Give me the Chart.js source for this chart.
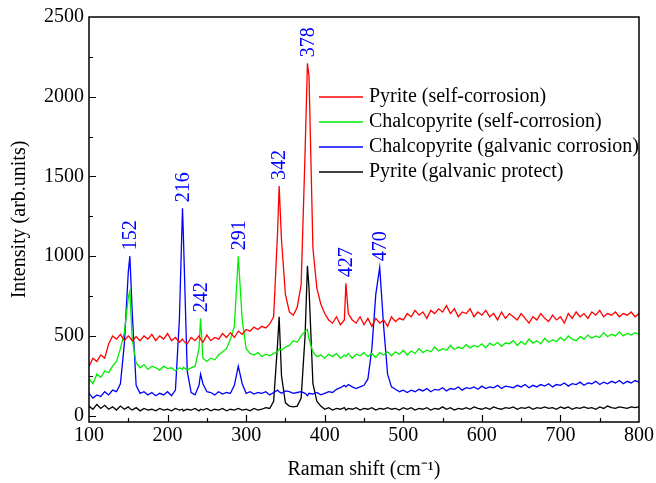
<!DOCTYPE html>
<html>
<head>
<meta charset="utf-8">
<script src="https://cdn.jsdelivr.net/npm/chart.js@4.4.0/dist/chart.umd.min.js"></script>
<style>
html, body { margin: 0; padding: 0; background: #fff; }
</style>
</head>
<body>
<canvas id="myChart" width="656" height="483"></canvas>
<script>
// Raman shift (cm-1), shared by all four spectra
const shift = [
  100,105,110,115,120,125,130,135,140,145,150,
  152,155,160,165,170,175,180,185,190,195,200,205,210,215,
  219,220,225,230,235,240,242,245,250,255,260,265,270,275,280,285,290,295,300,
  305,310,315,320,325,330,335,340,342,345,350,355,360,365,370,375,378,380,385,390,395,400,
  405,410,415,420,425,427,430,435,440,445,450,455,460,465,470,475,480,485,490,495,500,
  505,510,515,520,525,530,535,540,545,550,555,560,565,570,575,580,585,590,595,600,
  605,610,615,620,625,630,635,640,645,650,655,660,665,670,675,680,685,690,695,700,
  705,710,715,720,725,730,735,740,745,750,755,760,765,770,775,780,785,790,795,800
];

const pyriteSelf = [
  310,360,340,380,360,450,500,480,510,470,500,
  490,470,495,470,500,480,510,470,500,480,515,470,490,460,
  480,470,450,490,470,500,480,460,505,470,490,480,515,490,520,490,530,510,540,
  530,555,540,560,550,575,620,1150,1440,1100,760,650,630,680,820,1650,2210,2130,1050,800,700,640,
  600,580,620,570,600,830,640,600,580,620,570,610,560,610,580,600,560,620,590,610,600,
  640,620,660,630,650,610,660,640,670,650,690,640,670,620,650,640,670,620,650,630,
  660,620,640,600,650,610,640,620,600,640,610,580,620,600,640,610,590,630,600,620,
  580,640,610,650,620,640,610,650,630,660,620,640,630,650,620,640,630,650,620,640
];

const chalcoSelf = [
  230,200,260,240,280,270,310,340,420,520,740,
  780,480,330,300,320,290,310,300,285,310,295,300,280,300,
  290,305,285,300,310,420,610,360,340,360,350,380,400,420,480,560,1000,600,420,
  390,380,395,370,385,375,390,400,420,410,430,440,470,460,500,530,540,480,400,370,380,360,
  385,370,390,360,380,370,390,360,385,375,395,370,390,365,395,380,400,375,400,385,410,
  380,405,390,420,395,410,400,430,405,420,410,440,415,430,420,445,425,440,430,450,
  425,455,440,460,435,455,450,470,440,465,445,480,455,470,450,485,460,475,465,490,
  470,500,480,470,495,480,505,485,500,490,520,495,510,500,525,500,515,505,520,510
];

const chalcoGalvanic = [
  140,110,130,120,150,130,160,150,200,450,900,
  1000,650,190,140,150,130,145,125,140,130,150,125,160,600,
  1300,1150,280,145,130,190,260,200,150,145,130,150,135,145,140,190,310,200,140,
  150,135,145,140,150,130,145,160,150,140,155,150,140,145,150,140,125,140,135,145,130,140,
  150,145,165,175,190,180,195,180,170,180,190,230,420,760,930,560,260,180,165,150,160,
  145,160,150,165,155,170,150,165,160,175,155,170,165,180,160,175,170,180,165,185,
  170,180,175,190,170,185,180,175,190,180,195,175,190,180,195,185,200,180,195,190,
  205,185,200,195,210,190,205,200,215,195,210,200,215,205,220,200,215,205,220,210
];

const pyriteProtect = [
  60,40,70,45,65,40,55,35,60,40,55,
  45,35,50,30,45,35,40,30,45,35,40,30,45,35,
  40,30,40,35,45,30,40,35,45,30,40,35,45,30,40,35,45,35,40,
  30,45,35,40,50,45,90,450,620,250,80,60,55,60,110,500,940,800,200,90,60,40,
  50,35,45,40,50,35,45,40,50,35,45,40,50,35,45,40,50,40,45,35,50,
  40,50,35,45,40,50,35,45,40,55,40,50,35,45,40,50,40,55,45,40,
  50,40,55,45,40,50,45,55,40,50,45,55,40,50,45,55,45,50,40,55,
  45,55,40,50,45,55,45,50,40,55,45,60,50,45,55,50,45,55,50,55
];

const seriesNames = ['Pyrite (self-corrosion)', 'Chalcopyrite (self-corrosion)',
  'Chalcopyrite (galvanic corrosion)', 'Pyrite (galvanic protect)'];
const seriesColors = ['#ff0000', '#00ee00', '#0000ff', '#000000'];

const xTicks = [100, 200, 300, 400, 500, 600, 700, 800];
const yTicks = [0, 500, 1000, 1500, 2000, 2500];

// peak annotations (label text and where it sits on the x axis)
const peakText = ['152', '216', '242', '291', '342', '378', '427', '470'];
const peakAt = [152, 219, 242, 290, 342, 378, 427, 470];

const allSeries = [pyriteSelf, chalcoSelf, chalcoGalvanic, pyriteProtect];
const FONT = "'Liberation Serif', 'Times New Roman', serif";

function toPoints(arr) {
  return shift.map((x, i) => ({ x: x, y: arr[i] }));
}

const decor = {
  id: 'decor',
  afterDraw(chart) {
    const ctx = chart.ctx;
    const a = chart.chartArea;
    const xs = chart.scales.x, ys = chart.scales.y;
    ctx.save();

    // frame
    ctx.strokeStyle = '#000';
    ctx.lineWidth = 1.5;
    ctx.strokeRect(a.left, a.top, a.right - a.left, a.bottom - a.top);

    // inward ticks on bottom and left
    ctx.lineWidth = 1.2;
    ctx.beginPath();
    for (let v = 150; v < 800; v += 50) {
      const px = Math.round(xs.getPixelForValue(v)) + 0.5;
      const len = v % 100 === 0 ? 7 : 4;
      ctx.moveTo(px, a.bottom);
      ctx.lineTo(px, a.bottom - len);
    }
    for (let v = 0; v < 2500; v += 250) {
      const py = Math.round(ys.getPixelForValue(v)) + 0.5;
      const len = v % 500 === 0 ? 7 : 4;
      ctx.moveTo(a.left, py);
      ctx.lineTo(a.left + len, py);
    }
    ctx.stroke();

    // legend
    ctx.font = '20px ' + FONT;
    ctx.textBaseline = 'middle';
    ctx.textAlign = 'left';
    seriesNames.forEach((name, i) => {
      const y = 97 + i * 25;
      ctx.strokeStyle = seriesColors[i];
      ctx.lineWidth = 1.3;
      ctx.beginPath();
      ctx.moveTo(319, y);
      ctx.lineTo(363, y);
      ctx.stroke();
      ctx.fillStyle = '#000';
      ctx.fillText(name, 369, y);
    });

    // peak labels, rotated
    ctx.fillStyle = '#0000ff';
    peakText.forEach((t, i) => {
      const idx = shift.indexOf(peakAt[i]);
      const top = Math.max(...allSeries.map(s => s[idx]));
      const px = xs.getPixelForValue(peakAt[i]);
      const py = ys.getPixelForValue(top) - 6;
      ctx.save();
      ctx.translate(px, py);
      ctx.rotate(-Math.PI / 2);
      ctx.textAlign = 'left';
      ctx.textBaseline = 'middle';
      ctx.fillText(t, 0, 1);
      ctx.restore();
    });
    ctx.restore();
  }
};

const ctx = document.getElementById('myChart').getContext('2d');
const myChart = new Chart(ctx, {
  type: 'line',
  data: {
    datasets: allSeries.map((s, i) => ({
      label: seriesNames[i],
      data: toPoints(s),
      borderColor: seriesColors[i],
      borderWidth: 1.3,
      pointRadius: 0,
      tension: 0,
      fill: false
    }))
  },
  options: {
    responsive: false,
    animation: false,
    layout: { padding: { top: 16, right: 17, left: 0, bottom: 0 } },
    plugins: { legend: { display: false }, tooltip: { enabled: false } },
    scales: {
      x: {
        type: 'linear',
        min: 100,
        max: 800,
        afterBuildTicks: s => { s.ticks = xTicks.map(v => ({ value: v })); },
        afterFit: s => { s.height = 61; },
        grid: { display: false, drawTicks: false },
        border: { display: false },
        ticks: {
          color: '#000', font: { family: FONT, size: 20 }, padding: 2, maxRotation: 0,
          callback: v => String(v)
        },
        title: {
          display: true,
          text: 'Raman shift (cm\u207B\u00B9)',
          color: '#000',
          font: { family: FONT, size: 20 },
          padding: { top: 0, bottom: 1 }
        }
      },
      y: {
        type: 'linear',
        min: -40,
        max: 2500,
        afterBuildTicks: s => { s.ticks = yTicks.map(v => ({ value: v })); },
        afterFit: s => { s.width = 89; },
        grid: { display: false, drawTicks: false },
        border: { display: false },
        ticks: {
          color: '#000', font: { family: FONT, size: 20 }, padding: 5,
          callback: v => String(v)
        },
        title: {
          display: true,
          text: 'Intensity (arb.units)',
          color: '#000',
          font: { family: FONT, size: 20 },
          padding: { top: 8, bottom: 0 }
        }
      }
    }
  },
  plugins: [decor]
});
</script>
</body>
</html>
